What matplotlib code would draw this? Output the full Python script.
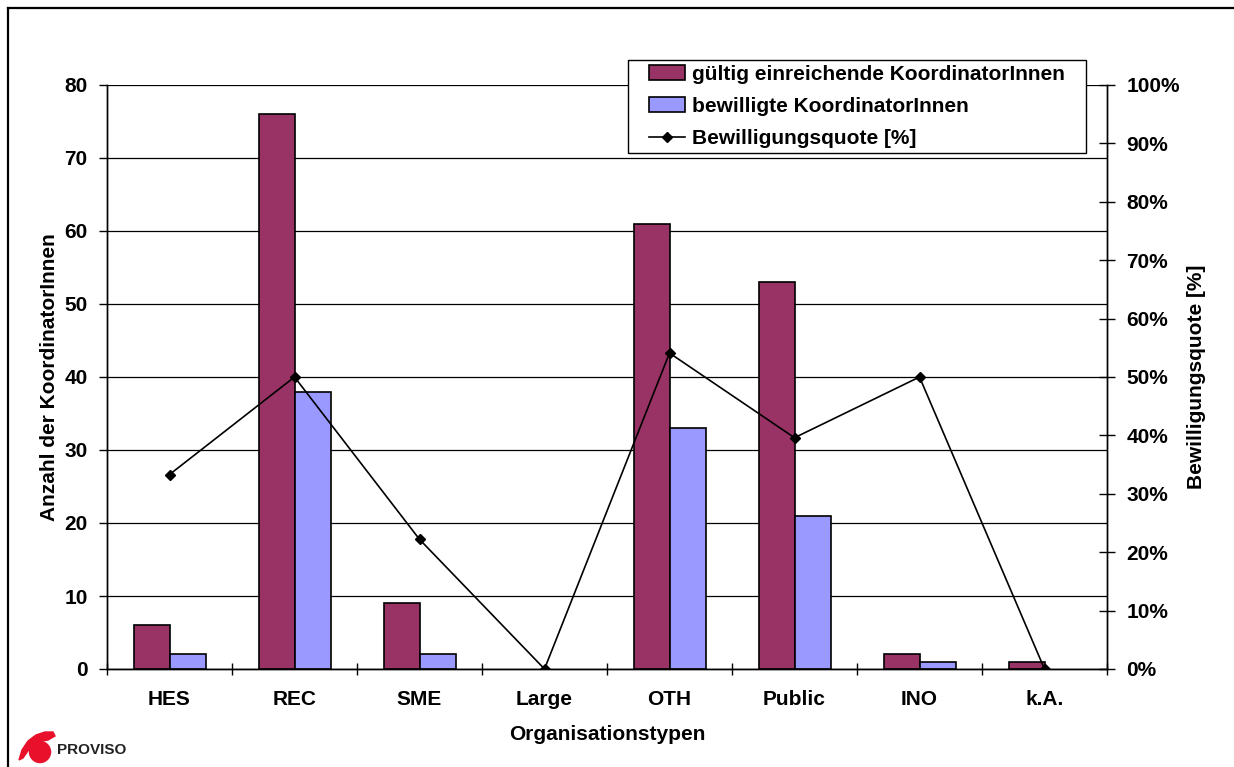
import numpy as np
import matplotlib.pyplot as plt
from matplotlib.patches import Patch, Ellipse, Polygon, Rectangle
from matplotlib.lines import Line2D

plt.rcParams['font.family'] = ['Liberation Sans', 'DejaVu Sans']
plt.rcParams['font.weight'] = 'bold'

categories = ['HES', 'REC', 'SME', 'Large', 'OTH', 'Public', 'INO', 'k.A.']
eingereicht = [6, 76, 9, 0, 61, 53, 2, 1]
bewilligt = [2, 38, 2, 0, 33, 21, 1, 0]
quote = [0.333, 0.50, 0.222, 0.0, 0.541, 0.396, 0.50, 0.0]

RED = '#993366'
BLUE = '#9999FF'
FS = 15

W, H = 1234, 767
fig = plt.figure(figsize=(W / 100, H / 100), dpi=100)
ax = fig.add_axes([107 / W, 1 - 669 / H, 1000 / W, (669 - 85) / H])
ax2 = ax.twinx()

x = np.arange(len(categories))
bw = 0.288
# zero-height bars get no outline
ec_red = ['black' if v > 0 else 'none' for v in eingereicht]
ec_blue = ['black' if v > 0 else 'none' for v in bewilligt]
ax.bar(x - bw / 2, eingereicht, bw, color=RED, edgecolor=ec_red, linewidth=1.2, zorder=3)
ax.bar(x + bw / 2, bewilligt, bw, color=BLUE, edgecolor=ec_blue, linewidth=1.2, zorder=3)

ax.set_xlim(-0.5, len(categories) - 0.5)
ax.set_ylim(0, 80)
ax.set_yticks(range(0, 81, 10))
ax.yaxis.grid(True, color='black', linewidth=0.9, zorder=0)
ax.set_axisbelow(True)
ax.set_xticks(np.arange(-0.5, len(categories), 1.0))
ax.set_xticklabels([])
ax.set_xticks(x, minor=True)
ax.set_xticklabels(categories, minor=True)
ax.tick_params(axis='x', which='major', direction='inout', length=9, width=1)
ax.tick_params(axis='x', which='minor', length=0, pad=15, labelsize=FS)
ax.tick_params(axis='y', direction='out', length=6, width=1, labelsize=FS, pad=8)
for lab in ax.get_xticklabels(minor=True) + ax.get_yticklabels():
    lab.set_fontweight('bold')

ax2.plot(x, quote, color='black', linewidth=1.2, marker='D', markersize=5.5, zorder=4)
ax2.set_ylim(0, 1)
ax2.set_yticks(np.linspace(0, 1, 11))
ax2.set_yticklabels([f'{int(round(v * 100))}%' for v in np.linspace(0, 1, 11)])
ax2.tick_params(axis='y', direction='inout', length=12, width=1, labelsize=FS, pad=8)
for lab in ax2.get_yticklabels():
    lab.set_fontweight('bold')

for a in (ax, ax2):
    a.spines['top'].set_visible(False)
    for s in ('left', 'right', 'bottom'):
        a.spines[s].set_linewidth(1)

ax.set_ylabel('Anzahl der KoordinatorInnen', fontsize=FS, fontweight='bold', labelpad=4)
ax2.set_ylabel('Bewilligungsquote [%]', fontsize=FS, fontweight='bold', labelpad=5)
ax.set_xlabel('Organisationstypen', fontsize=FS, fontweight='bold', labelpad=12)

# legend box drawn separately so its padding can be set exactly
lx0, ly0, lx1, ly1 = 628, 60, 1086, 153
fig.add_artist(Rectangle((lx0 / W, 1 - ly1 / H), (lx1 - lx0) / W, (ly1 - ly0) / H,
                         facecolor='white', edgecolor='black', linewidth=1,
                         transform=fig.transFigure, zorder=5))
handles = [
    Patch(facecolor=RED, edgecolor='black', linewidth=1.2),
    Patch(facecolor=BLUE, edgecolor='black', linewidth=1.2),
    Line2D([], [], color='black', linewidth=1.2, marker='D', markersize=5.5),
]
labels = ['gültig einreichende KoordinatorInnen', 'bewilligte KoordinatorInnen',
          'Bewilligungsquote [%]']
leg = fig.legend(handles, labels, loc='center',
                 bbox_to_anchor=((lx0 + lx1) / 2 / W, 1 - (ly0 + ly1) / 2 / H),
                 frameon=False, prop={'size': FS, 'weight': 'bold'},
                 labelspacing=0.62, handlelength=1.7, handletextpad=0.35,
                 borderpad=0, borderaxespad=0)
leg.set_zorder(6)

# outer frame (top and left edges)
fig.add_artist(Line2D([8 / W, 8 / W], [0, 1 - 8 / H], color='black', linewidth=1.6,
                      transform=fig.transFigure))
fig.add_artist(Line2D([8 / W, 1], [1 - 8 / H, 1 - 8 / H], color='black', linewidth=1.6,
                      transform=fig.transFigure))


# PROVISO logo
def fx(px):
    return px / W


def fy(py):
    return 1 - py / H


fig.add_artist(Ellipse((fx(40), fy(752)), 21 / W, 21 / H, color='#E8102A',
                       transform=fig.transFigure))
swoosh = [(19, 760), (22, 750), (28, 741), (36, 735), (45, 732), (53, 732),
          (55, 736), (48, 740), (38, 742), (30, 748), (23, 758)]
fig.add_artist(Polygon([(fx(a), fy(b)) for a, b in swoosh], closed=True,
                       color='#E8102A', transform=fig.transFigure))
fig.text(fx(57), fy(750), 'PROVISO', fontsize=11, fontweight='bold', color='#222222',
         va='center', ha='left')

fig.savefig('out.png', dpi=100)
